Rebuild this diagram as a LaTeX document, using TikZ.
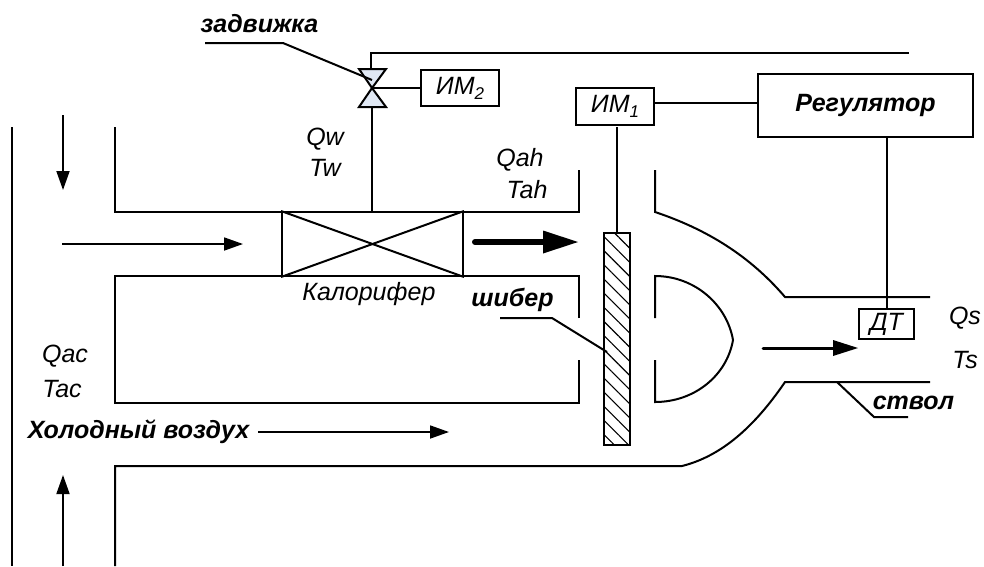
\documentclass[tikz,border=0pt]{standalone}
\usepackage{fontspec}
\setmainfont{Liberation Sans}
\usetikzlibrary{arrows.meta,patterns,patterns.meta}
\definecolor{valvefill}{HTML}{E0E8F4}
\tikzset{
 wall/.style={line width=2pt,line join=miter},
 thin wall/.style={line width=2pt},
 lbl/.style={font=\fontsize{25pt}{28pt}\selectfont\itshape,inner sep=0pt},
 blbl/.style={font=\fontsize{25pt}{28pt}\selectfont\bfseries\itshape,inner sep=0pt},
 boxn/.style={draw,line width=2pt,inner sep=0pt,font=\fontsize{25pt}{28pt}\selectfont\itshape},
 arr/.style={line width=1.8pt,-{Triangle[length=19pt,width=13pt]}},
 hatch/.style={pattern={Lines[angle=-45,distance=10pt,line width=1.1pt]}},
}
\newcommand{\subidx}[1]{\raisebox{-5pt}{\fontsize{17pt}{19pt}\selectfont\itshape #1}}
\begin{document}
\begin{tikzpicture}[x=1pt,y=-1pt]
\useasboundingbox (0,0) rectangle (984,566);
% walls
\draw[wall] (12,127) -- (12,566);
\draw[wall] (115,127) -- (115,212) -- (579,212) -- (579,170);
\draw[wall] (579,318) -- (579,276) -- (115,276) -- (115,403) -- (579,403) -- (579,360);
\draw[thin wall] (655,170) -- (655,212) .. controls (715,232) and (755,262) .. (785,297) -- (930,297);
\draw[thin wall] (115,566) -- (115,466) -- (682,466) .. controls (722,456) and (755,426) .. (785,382) -- (930,382);
\draw[thin wall] (655,318) -- (655,276) .. controls (695,276) and (727,305) .. (733,340) .. controls (727,375) and (695,402) .. (655,402) -- (655,360);
% heater
\node[draw,wall,minimum width=181pt,minimum height=64pt,inner sep=0pt] (heater) at (372.5,244) {};
\draw[thin wall] (heater.north west) -- (heater.south east) (heater.south west) -- (heater.north east);
% damper
\node[draw,wall,minimum width=26pt,minimum height=212pt,inner sep=0pt,hatch] (damper) at (617,339) {};
% boxes
\node[boxn,minimum width=78pt,minimum height=36pt] (im2) at (460,88) {ИМ\subidx{2}};
\node[boxn,minimum width=78pt,minimum height=37pt] (im1) at (615,106.5) {ИМ\subidx{1}};
\node[boxn,minimum width=215pt,minimum height=63pt,font=\fontsize{25pt}{28pt}\selectfont\bfseries\itshape] (reg) at (865.5,105.5) {Регулятор};
\node[boxn,minimum width=55pt,minimum height=30pt] (dt) at (886.5,324) {ДТ};
% valve
\coordinate (vc) at (372,88);
\coordinate (wire) at (700,103);
\coordinate (sens) at (887,200);
\draw[wall,fill=valvefill] (359,69) -- (386,69) -- (vc) -- cycle;
\draw[wall,fill=valvefill] (359,107) -- (386,107) -- (vc) -- cycle;
\draw[thin wall] (vc) -- (im2.west);
\draw[thin wall] (372,107) -- (372,212);
\draw[thin wall] (371,69) -- (371,52.5) -- (909,52.5);
\draw[thin wall] (im1.east |- wire) -- (reg.west |- wire);
\draw[thin wall] (617,127) -- (damper.north);
\draw[thin wall] (sens |- reg.south) -- (sens |- dt.north);
% leaders
\draw[thin wall] (205,43) -- (283,43) -- (372,80);
\draw[thin wall] (500,318) -- (552,318) -- (607,352);
\draw[thin wall] (837,382) -- (874,417) -- (908,417);
% arrows
\draw[arr] (63,115) -- (63,190);
\draw[arr] (62,244) -- (243,244);
\draw[line width=6pt,line cap=round,-{Triangle[length=35pt,width=23pt,line width=0pt]}] (475,242) -- (578,242);
\draw[line width=3pt,line cap=round,-{Triangle[length=25pt,width=16pt,line width=0pt]}] (763,348) -- (858,348);
\draw[arr] (258,432) -- (449,432);
\draw[arr] (63,566) -- (63,475);
% labels
\node[blbl] (t1) at (259.5,24) {задвижка};
\node[lbl] (t2) at (325,139) {Qw};
\node[lbl] (t3) at (325,168) {Tw};
\node[lbl] (t4) at (520,160) {Qah};
\node[lbl] (t5) at (527,190) {Tah};
\node[lbl] (t6) at (369,294) {Калорифер};
\node[blbl] (t7) at (512.5,300) {шибер};
\node[lbl] (t8) at (65,356) {Qac};
\node[lbl] (t9) at (62,389) {Tac};
\node[blbl] (t10) at (138.5,432) {Холодный воздух};
\node[lbl] (t11) at (965,318) {Qs};
\node[lbl] (t12) at (965,360) {Ts};
\node[blbl] (t13) at (913.5,403) {ствол};
\end{tikzpicture}
\end{document}
